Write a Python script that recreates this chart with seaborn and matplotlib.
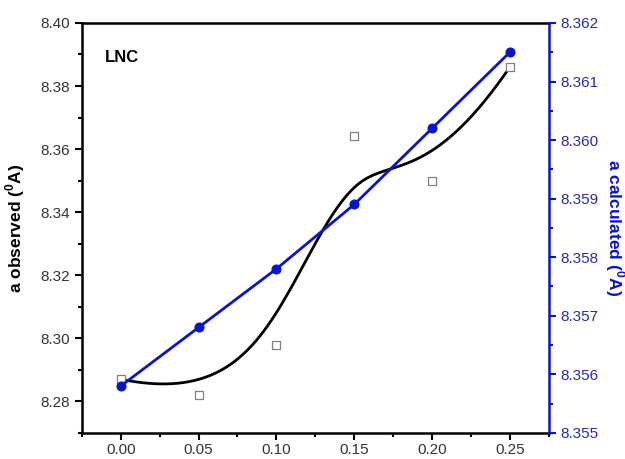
import numpy as np
import pandas as pd
import matplotlib
matplotlib.use("Agg")
import matplotlib.pyplot as plt
import seaborn as sns
from matplotlib.ticker import MultipleLocator, FormatStrFormatter

x_vals = [0.00, 0.05, 0.10, 0.15, 0.20, 0.25]
a_observed = [8.287, 8.282, 8.298, 8.364, 8.350, 8.386]
a_calculated = [8.3558, 8.3568, 8.3578, 8.3589, 8.3602, 8.3615]

sns.set_style("ticks")
plt.rcParams['font.family'] = ['Liberation Sans', 'DejaVu Sans']
plt.rcParams['mathtext.fontset'] = 'custom'
plt.rcParams['mathtext.rm'] = 'Liberation Sans'
plt.rcParams['mathtext.bf'] = 'Liberation Sans:bold'


def bspline(ctrl_x, ctrl_y, degree=3, n=400):
    # clamped uniform B-spline using data points as control points (Origin style)
    P = np.column_stack([ctrl_x, ctrl_y])
    m = len(P)
    inner = np.arange(1, m - degree)
    knots = np.concatenate([np.zeros(degree + 1), inner, np.full(degree + 1, m - degree)]).astype(float)
    ts = np.linspace(0, m - degree, n)
    out = []
    for t in ts:
        N = np.zeros(len(knots) - 1)
        for i in range(len(knots) - 1):
            if knots[i] <= t < knots[i + 1] or (t == knots[-1] and knots[i] < t <= knots[i + 1]):
                N[i] = 1.0
        for k in range(1, degree + 1):
            Nn = np.zeros(len(knots) - 1 - k)
            for i in range(len(Nn)):
                a = 0.0
                d1 = knots[i + k] - knots[i]
                if d1 > 0:
                    a += (t - knots[i]) / d1 * N[i]
                d2 = knots[i + k + 1] - knots[i + 1]
                if d2 > 0:
                    a += (knots[i + k + 1] - t) / d2 * N[i + 1]
                Nn[i] = a
            N = Nn
        out.append(N @ P)
    out = np.array(out)
    return out[:, 0], out[:, 1]


df = pd.DataFrame({"x": x_vals, "obs": a_observed, "calc": a_calculated})
bx, by = bspline(x_vals, a_observed)
curve = pd.DataFrame({"x": bx, "y": by})

fig = plt.figure(figsize=(6.25, 4.59), dpi=100)
ax = fig.add_axes([0.131, 0.057, 0.747, 0.893])
ax2 = ax.twinx()

blue = "#0a14c8"
tickblue = "#2a2aa8"

sns.lineplot(data=curve, x="x", y="y", ax=ax, color="black", linewidth=2.0, sort=False)
sns.scatterplot(data=df, x="x", y="obs", ax=ax, marker="s", s=30, facecolor="white",
                edgecolor="#808080", linewidth=0.9, zorder=5)

sns.lineplot(data=df, x="x", y="calc", ax=ax2, color=blue, linewidth=2.0,
             marker="o", markersize=6.5, markeredgecolor=blue, markerfacecolor=blue)

ax.set_xlim(-0.025, 0.275)
ax.set_ylim(8.27, 8.40)
ax2.set_ylim(8.355, 8.362)

ax.xaxis.set_major_locator(MultipleLocator(0.05))
ax.xaxis.set_minor_locator(MultipleLocator(0.025))
ax.xaxis.set_major_formatter(FormatStrFormatter("%.2f"))
ax.yaxis.set_major_locator(MultipleLocator(0.02))
ax.yaxis.set_minor_locator(MultipleLocator(0.01))
ax.yaxis.set_major_formatter(FormatStrFormatter("%.2f"))
ax2.yaxis.set_major_locator(MultipleLocator(0.001))
ax2.yaxis.set_minor_locator(MultipleLocator(0.0005))
ax2.yaxis.set_major_formatter(FormatStrFormatter("%.3f"))

for sp in ["left", "bottom", "top"]:
    ax.spines[sp].set_linewidth(1.8)
    ax.spines[sp].set_color("black")
for sp in ["left", "bottom", "top"]:
    ax2.spines[sp].set_visible(False)
ax.spines["right"].set_visible(False)
ax2.spines["right"].set_visible(True)
ax2.spines["right"].set_color(blue)
ax2.spines["right"].set_linewidth(1.8)

ax.tick_params(axis="both", which="major", direction="out", length=5, width=1.5,
               labelsize=11, labelcolor="#333333", color="black")
ax.tick_params(axis="both", which="minor", direction="out", length=3, width=1.5, color="black")
ax.tick_params(axis="x", pad=2.5)
ax2.tick_params(axis="y", which="major", direction="out", length=5, width=1.5,
                labelsize=11, labelcolor=tickblue, color=blue)
ax2.tick_params(axis="y", which="minor", direction="out", length=3, width=1.5, color=blue)

ax.set_xlabel("")
ax.set_ylabel(r"a observed ($^\mathbf{0}$A)", fontsize=12.5, fontweight="bold", color="black", labelpad=10)
ax2.set_ylabel(r"a calculated ($^\mathbf{0}$A)", fontsize=12.5, fontweight="bold", color=blue,
               rotation=270, labelpad=20)

ax.text(0.05, 0.915, "LNC", transform=ax.transAxes, fontsize=12, fontweight="bold",
        color="black", ha="left", va="center")

fig.savefig("out.png", dpi=100)
